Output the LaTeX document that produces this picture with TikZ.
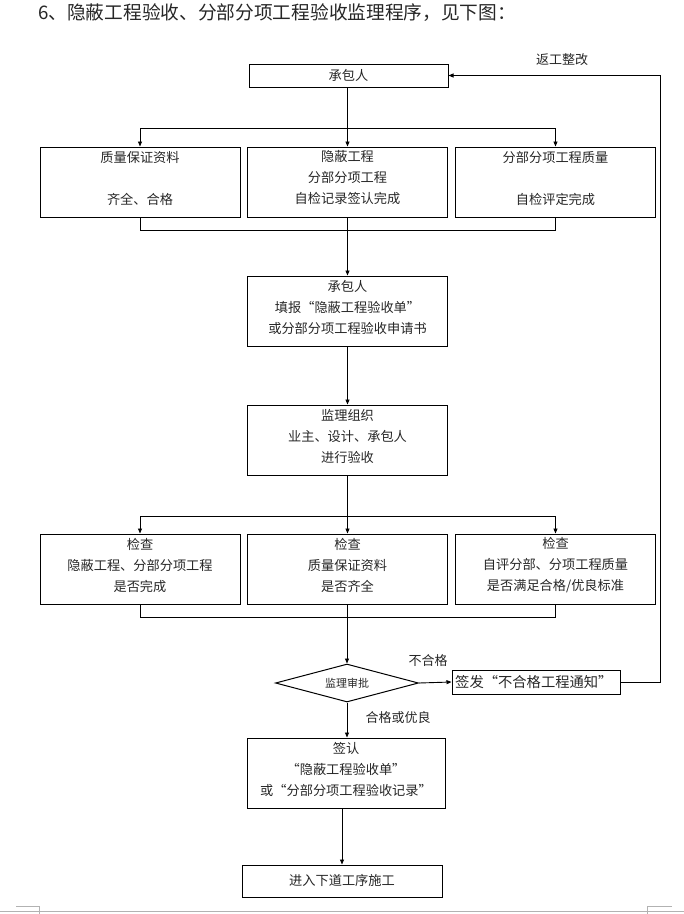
\documentclass[tikz,border=0pt]{standalone}
\usepackage{fontspec}
\setmainfont{Noto Sans CJK SC}
\usetikzlibrary{arrows.meta,shapes.geometric}
\begin{document}
\begin{tikzpicture}[x=1pt,y=-1pt,
  box/.style={draw,line width=1pt,minimum width=200pt,minimum height=70pt,inner sep=0pt},
  txt/.style={align=center,font=\fontsize{13.2}{21}\selectfont,text=black!85,inner sep=0pt},
  lbl/.style={font=\fontsize{13}{15}\selectfont,text=black!85,inner sep=0pt},
  ln/.style={line width=0.9pt},
  arr/.style={line width=0.9pt,-{Triangle[length=5pt,width=4pt]}}]
\useasboundingbox (0,0) rectangle (684,914);
% title
\node[anchor=west,font=\fontsize{18.7}{20}\selectfont,text=black!85,inner sep=0pt] (title) at (38,13) {6、隐蔽工程验收、分部分项工程验收监理程序，见下图：};
% top box
\node[box,minimum width=199pt,minimum height=23pt] (top) at (348.5,75.5) {};
\node[txt] (ttop) at (348.5,75.5) {承包人};
% row 1
\node[box] (a1) at (140,182) {};
\node[box] (a2) at (347.5,182) {};
\node[box] (a3) at (555.5,182) {};
\node[txt] (ta1) at (140,178) {质量保证资料\\[21pt]齐全、合格};
\node[txt] (ta2) at (347.5,178) {隐蔽工程\\分部分项工程\\自检记录签认完成};
\node[txt] (ta3) at (555.5,178) {分部分项工程质量\\[21pt]自检评定完成};
% box 4 & 5
\node[box] (b4) at (347.5,311) {};
\node[txt] (tb4) at (347.5,307.5) {承包人\\填报“隐蔽工程验收单”\\或分部分项工程验收申请书};
\node[box] (b5) at (347.5,440) {};
\node[txt] (tb5) at (347.5,436.5) {监理组织\\业主、设计、承包人\\进行验收};
% row 3
\node[box] (c1) at (140,569) {};
\node[box] (c2) at (347.5,569) {};
\node[box] (c3) at (555.5,569) {};
\node[txt] (tc1) at (140,565.5) {检查\\隐蔽工程、分部分项工程\\是否完成};
\node[txt] (tc2) at (347.5,565.5) {检查\\质量保证资料\\是否齐全};
\node[txt] (tc3) at (555.5,565.5) {检查\\自评分部、分项工程质量\\是否满足合格/优良标准};
% diamond
\node[draw,line width=1pt,diamond,aspect=3.76,minimum width=143pt,minimum height=38pt,inner sep=0pt] (d) at (347,683) {};
\node[inner sep=0pt,font=\fontsize{11}{13}\selectfont,text=black!85] (td) at (347,683) {监理审批};
% notice box
\node[draw,line width=1pt,minimum width=168pt,minimum height=24pt,inner sep=0pt] (n) at (536,682) {};
\node[anchor=west,inner sep=0pt,font=\fontsize{14.3}{15}\selectfont,text=black!85] (tn) at (455,682) {签发“不合格工程通知”};
% box 7 & 8
\node[box,minimum width=198pt] (e7) at (346,773) {};
\node[txt] (te7) at (346,769.5) {签认\\“隐蔽工程验收单”\\或“分部分项工程验收记录”};
\node[box,minimum height=32pt] (e8) at (342,881) {};
\node[txt] (te8) at (342,880) {进入下道工序施工};
% labels
\node[lbl] (l1) at (562,60) {返工整改};
\node[lbl] (l2) at (428,661) {不合格};
\node[lbl] (l3) at (398,718) {合格或优良};
% connectors top
\coordinate (s1) at (347.5,128);
\draw[ln] (top.south -| s1) -- (s1);
\draw[ln] (a1.north |- s1) -- (a3.north |- s1);
\draw[arr] (a1.north |- s1) -- (a1.north);
\draw[arr] (s1) -- (a2.north);
\draw[arr] (a3.north |- s1) -- (a3.north);
% collector 1
\coordinate (k1) at (140,230);
\draw[ln] (a1.south) -- (k1) -- (a3.south |- k1) -- (a3.south);
\draw[arr] (a2.south) -- (b4.north);
\draw[arr] (b4.south) -- (b5.north);
% branch 2
\coordinate (s2) at (347.5,516);
\draw[ln] (b5.south) -- (s2);
\draw[ln] (c1.north |- s2) -- (c3.north |- s2);
\draw[arr] (c1.north |- s2) -- (c1.north);
\draw[arr] (s2) -- (c2.north);
\draw[arr] (c3.north |- s2) -- (c3.north);
% collector 2
\coordinate (k2) at (140,617);
\draw[ln] (c1.south) -- (k2) -- (c3.south |- k2) -- (c3.south);
\draw[arr] (c2.south -| d.north) -- (d.north);
% diamond out
\draw[arr] (d.east) -- (n.west);
\draw[arr] (d.south) -- (d.south |- e7.north);
\draw[arr] (e8.north |- e7.south) -- (e8.north);
% feedback
\coordinate (r) at (660,682);
\draw[arr] (n.east) -- (r) |- (top.east);
% page marks
\draw[gray!60,line width=1pt] (0,911) -- (684,911);
\draw[gray!60,line width=0.8pt] (16,906) -- (39,906) -- (39,914);
\draw[gray!60,line width=0.8pt] (672,906) -- (647,906) -- (647,914);
\end{tikzpicture}
\end{document}
